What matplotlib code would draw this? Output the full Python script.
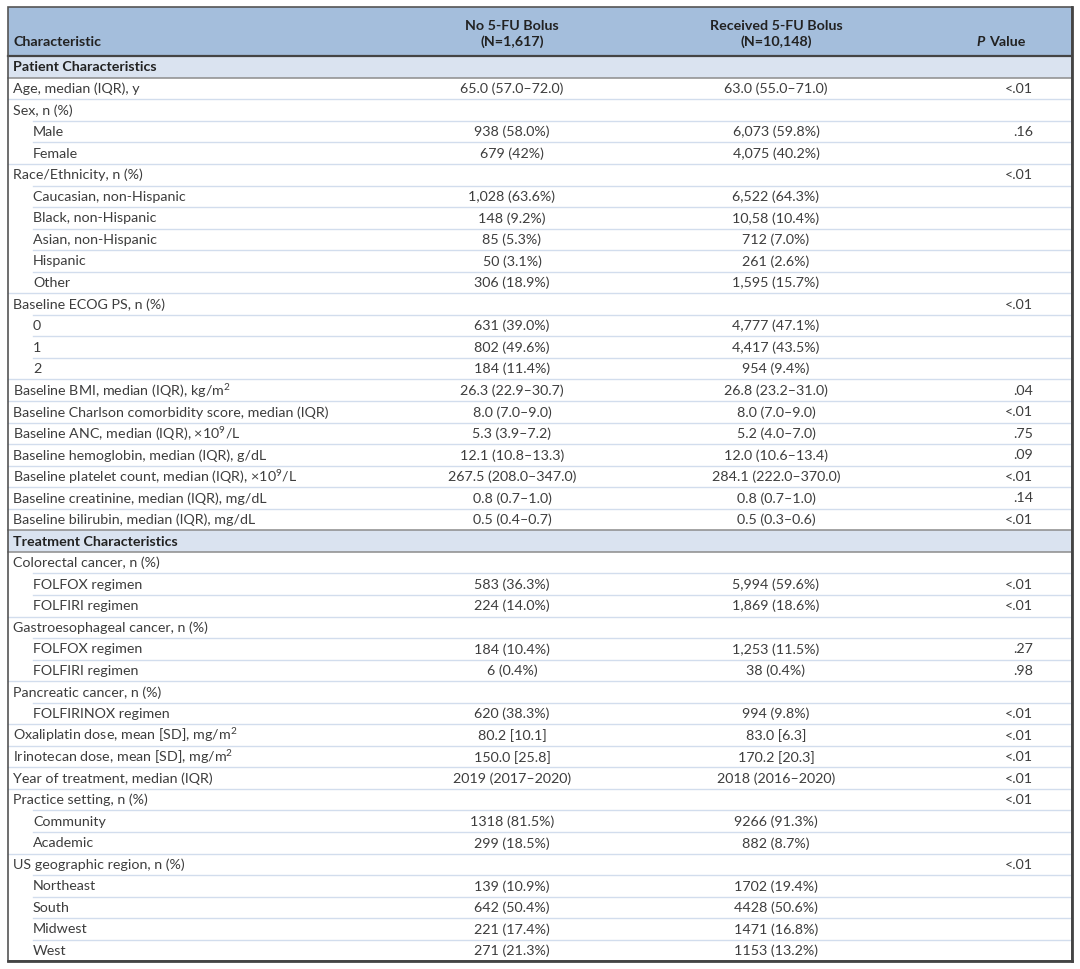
import matplotlib
matplotlib.use("Agg")
import matplotlib.pyplot as plt
from matplotlib.patches import Rectangle

plt.rcParams["font.family"] = ["Lato", "DejaVu Sans"]
plt.rcParams["mathtext.fontset"] = "custom"
plt.rcParams["mathtext.rm"] = "Lato"
plt.rcParams["mathtext.it"] = "Lato:italic"
plt.rcParams["mathtext.bf"] = "Lato:bold"

# table content
header_groups = ["No 5-FU Bolus", "Received 5-FU Bolus"]
header_ns = ["(N=1,617)", "(N=10,148)"]

labels = [
    "Patient Characteristics",
    "Age, median (IQR), y",
    "Sex, n (%)",
    "Male",
    "Female",
    "Race/Ethnicity, n (%)",
    "Caucasian, non-Hispanic",
    "Black, non-Hispanic",
    "Asian, non-Hispanic",
    "Hispanic",
    "Other",
    "Baseline ECOG PS, n (%)",
    "0",
    "1",
    "2",
    "Baseline BMI, median (IQR), kg/m$^2$",
    "Baseline Charlson comorbidity score, median (IQR)",
    "Baseline ANC, median (IQR), \u00d710$^9$/L",
    "Baseline hemoglobin, median (IQR), g/dL",
    "Baseline platelet count, median (IQR), \u00d710$^9$/L",
    "Baseline creatinine, median (IQR), mg/dL",
    "Baseline bilirubin, median (IQR), mg/dL",
    "Treatment Characteristics",
    "Colorectal cancer, n (%)",
    "FOLFOX regimen",
    "FOLFIRI regimen",
    "Gastroesophageal cancer, n (%)",
    "FOLFOX regimen",
    "FOLFIRI regimen",
    "Pancreatic cancer, n (%)",
    "FOLFIRINOX regimen",
    "Oxaliplatin dose, mean [SD], mg/m$^2$",
    "Irinotecan dose, mean [SD], mg/m$^2$",
    "Year of treatment, median (IQR)",
    "Practice setting, n (%)",
    "Community",
    "Academic",
    "US geographic region, n (%)",
    "Northeast",
    "South",
    "Midwest",
    "West",
]

no_bolus = [
    "", "65.0 (57.0\u201372.0)", "", "938 (58.0%)", "679 (42%)", "",
    "1,028 (63.6%)", "148 (9.2%)", "85 (5.3%)", "50 (3.1%)", "306 (18.9%)", "",
    "631 (39.0%)", "802 (49.6%)", "184 (11.4%)",
    "26.3 (22.9\u201330.7)", "8.0 (7.0\u20139.0)", "5.3 (3.9\u20137.2)",
    "12.1 (10.8\u201313.3)", "267.5 (208.0\u2013347.0)", "0.8 (0.7\u20131.0)",
    "0.5 (0.4\u20130.7)",
    "", "", "583 (36.3%)", "224 (14.0%)", "", "184 (10.4%)", "6 (0.4%)", "",
    "620 (38.3%)", "80.2 [10.1]", "150.0 [25.8]", "2019 (2017\u20132020)", "",
    "1318 (81.5%)", "299 (18.5%)", "", "139 (10.9%)", "642 (50.4%)",
    "221 (17.4%)", "271 (21.3%)",
]

bolus = [
    "", "63.0 (55.0\u201371.0)", "", "6,073 (59.8%)", "4,075 (40.2%)", "",
    "6,522 (64.3%)", "10,58 (10.4%)", "712 (7.0%)", "261 (2.6%)", "1,595 (15.7%)", "",
    "4,777 (47.1%)", "4,417 (43.5%)", "954 (9.4%)",
    "26.8 (23.2\u201331.0)", "8.0 (7.0\u20139.0)", "5.2 (4.0\u20137.0)",
    "12.0 (10.6\u201313.4)", "284.1 (222.0\u2013370.0)", "0.8 (0.7\u20131.0)",
    "0.5 (0.3\u20130.6)",
    "", "", "5,994 (59.6%)", "1,869 (18.6%)", "", "1,253 (11.5%)", "38 (0.4%)", "",
    "994 (9.8%)", "83.0 [6.3]", "170.2 [20.3]", "2018 (2016\u20132020)", "",
    "9266 (91.3%)", "882 (8.7%)", "", "1702 (19.4%)", "4428 (50.6%)",
    "1471 (16.8%)", "1153 (13.2%)",
]

p_values = [
    "", "<.01", "", ".16", "", "<.01", "", "", "", "", "", "<.01", "", "", "",
    ".04", "<.01", ".75", ".09", "<.01", ".14", "<.01",
    "", "", "<.01", "<.01", "", ".27", ".98", "", "<.01", "<.01", "<.01", "<.01",
    "<.01", "", "", "<.01", "", "", "", "",
]

sections = [0, 22]
indented = [3, 4, 6, 7, 8, 9, 10, 12, 13, 14, 24, 25, 27, 28, 30, 35, 36,
            38, 39, 40, 41]

W, H = 1080, 969
fig = plt.figure(figsize=(W / 100, H / 100), dpi=100)
ax = fig.add_axes([0, 0, 1, 1])
ax.set_xlim(0, W)
ax.set_ylim(H, 0)
ax.axis("off")

left, right = 8, 1072
top, head_bot = 7, 56.2
row_h = 21.55
n_rows = len(labels)
bottom = head_bot + n_rows * row_h

col1_x, col2_x, p_x = 512, 776, 1033
text_c = "#3d3d3d"
head_c = "#222222"
fs = 10.3

# header band
ax.add_patch(Rectangle((left, top), right - left, head_bot - top,
                       facecolor="#a4bedc", edgecolor="none", zorder=0))
ax.text(13, 42, "Characteristic", fontsize=fs, fontweight="bold",
        color=head_c, va="center")
for x, g, n in zip([col1_x, col2_x], header_groups, header_ns):
    ax.text(x, 25.5, g, fontsize=fs, fontweight="bold", color=head_c,
            ha="center", va="center")
    ax.text(x, 42, n, fontsize=fs, fontweight="bold", color=head_c,
            ha="center", va="center")
ax.text(985, 42, "P", fontsize=fs, fontweight="bold", style="italic",
        color=head_c, ha="right", va="center")
ax.text(989, 42, "Value", fontsize=fs, fontweight="bold",
        color=head_c, ha="left", va="center")

# rows
for i, lab in enumerate(labels):
    y0 = head_bot + i * row_h
    yc = y0 + row_h / 2 + 0.5
    if i in sections:
        ax.add_patch(Rectangle((left, y0), right - left, row_h,
                               facecolor="#dae3f0", edgecolor="none", zorder=0))
        ax.text(13, yc, lab, fontsize=fs, fontweight="bold", color=head_c,
                va="center")
        continue
    x_lab = 33 if i in indented else 13
    ax.text(x_lab, yc, lab, fontsize=fs, color=text_c, va="center")
    ax.text(col1_x, yc, no_bolus[i], fontsize=fs, color=text_c,
            ha="center", va="center")
    ax.text(col2_x, yc, bolus[i], fontsize=fs, color=text_c,
            ha="center", va="center")
    ax.text(p_x, yc, p_values[i], fontsize=fs, color=text_c,
            ha="right", va="center")

# separators between rows
for i in range(1, n_rows):
    y = head_bot + i * row_h
    if i in sections or (i - 1) in sections:
        ax.plot([left, right], [y, y], color="#8c8c8c", lw=1.1, zorder=2)
    else:
        x0 = 33 if i in indented else left
        ax.plot([x0, right], [y, y], color="#d2dded", lw=1.0, zorder=1)

# header rule and outer frame
ax.plot([left, right], [head_bot, head_bot], color="#444444", lw=1.6, zorder=3)
ax.add_patch(Rectangle((left, top), right - left, bottom - top,
                       facecolor="none", edgecolor="#555555", lw=1.2, zorder=4))
ax.plot([right, right], [top, bottom], color="#444444", lw=2.0, zorder=4)
ax.plot([left, right], [bottom, bottom], color="#444444", lw=2.0, zorder=4)

fig.savefig("out.png", dpi=100, facecolor="white")
